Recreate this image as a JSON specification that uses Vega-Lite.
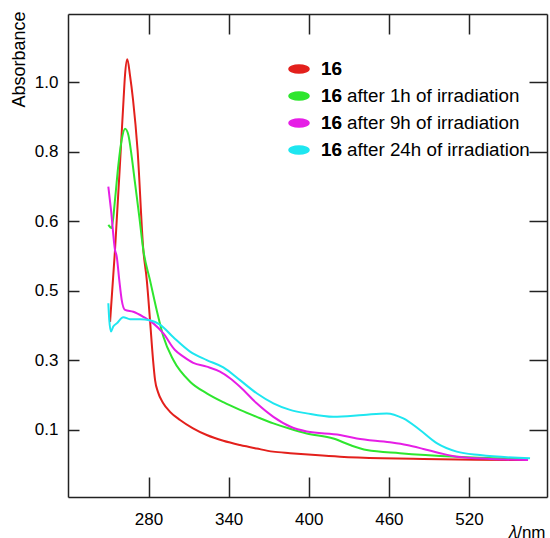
{
  "$schema": "https://vega.github.io/schema/vega-lite/v6.json",
  "width": 479,
  "height": 483,
  "autosize": {"type": "none"},
  "padding": {"left": 68, "top": 14, "right": 3, "bottom": 41},
  "background": "white",
  "config": {"view": {"stroke": null}, "font": "Liberation Sans"},
  "data": {"values": [
    {"k":"a","x":251.2,"y":0.38},{"k":"a","x":254.9,"y":0.566},{"k":"a","x":259.2,"y":0.825},{"k":"a","x":261.3,"y":0.955},{"k":"a","x":262.4,"y":1.019},{"k":"a","x":264.1,"y":1.06},{"k":"a","x":266.1,"y":1.019},{"k":"a","x":268.4,"y":0.955},{"k":"a","x":271.8,"y":0.825},{"k":"a","x":276.1,"y":0.566},{"k":"a","x":278.7,"y":0.488},{"k":"a","x":281.1,"y":0.385},{"k":"a","x":283.4,"y":0.281},{"k":"a","x":284.9,"y":0.229},{"k":"a","x":287.1,"y":0.198},{"k":"a","x":290.9,"y":0.17},{"k":"a","x":296.1,"y":0.147},{"k":"a","x":303.6,"y":0.126},{"k":"a","x":313.0,"y":0.105},{"k":"a","x":323.6,"y":0.087},{"k":"a","x":336.0,"y":0.072},{"k":"a","x":348.5,"y":0.061},{"k":"a","x":361.0,"y":0.052},{"k":"a","x":373.2,"y":0.044},{"k":"a","x":386.0,"y":0.04},{"k":"a","x":405.0,"y":0.035},{"k":"a","x":423.4,"y":0.031},{"k":"a","x":455.0,"y":0.027},{"k":"a","x":485.6,"y":0.025},{"k":"a","x":525.0,"y":0.023},{"k":"a","x":564.2,"y":0.022},
    {"k":"b","x":249.9,"y":0.631},{"k":"b","x":252.4,"y":0.623},{"k":"b","x":254.9,"y":0.696},{"k":"b","x":257.4,"y":0.786},{"k":"b","x":259.9,"y":0.851},{"k":"b","x":262.4,"y":0.88},{"k":"b","x":264.9,"y":0.864},{"k":"b","x":267.4,"y":0.808},{"k":"b","x":269.9,"y":0.739},{"k":"b","x":273.1,"y":0.652},{"k":"b","x":276.1,"y":0.566},{"k":"b","x":281.1,"y":0.488},{"k":"b","x":287.3,"y":0.393},{"k":"b","x":291.1,"y":0.342},{"k":"b","x":298.6,"y":0.281},{"k":"b","x":311.1,"y":0.225},{"k":"b","x":323.6,"y":0.195},{"k":"b","x":336.0,"y":0.172},{"k":"b","x":348.5,"y":0.152},{"k":"b","x":361.0,"y":0.134},{"k":"b","x":373.5,"y":0.117},{"k":"b","x":386.0,"y":0.103},{"k":"b","x":398.5,"y":0.091},{"k":"b","x":418.4,"y":0.078},{"k":"b","x":430.9,"y":0.061},{"k":"b","x":443.4,"y":0.048},{"k":"b","x":468.3,"y":0.04},{"k":"b","x":510.8,"y":0.031},{"k":"b","x":564.2,"y":0.025},
    {"k":"c","x":249.9,"y":0.73},{"k":"c","x":251.9,"y":0.67},{"k":"c","x":254.9,"y":0.566},{"k":"c","x":256.2,"y":0.549},{"k":"c","x":258.1,"y":0.488},{"k":"c","x":259.9,"y":0.437},{"k":"c","x":262.4,"y":0.411},{"k":"c","x":268.6,"y":0.406},{"k":"c","x":276.1,"y":0.393},{"k":"c","x":283.6,"y":0.376},{"k":"c","x":291.1,"y":0.35},{"k":"c","x":299.8,"y":0.307},{"k":"c","x":306.1,"y":0.29},{"k":"c","x":313.5,"y":0.274},{"k":"c","x":323.6,"y":0.264},{"k":"c","x":333.5,"y":0.251},{"k":"c","x":341.0,"y":0.234},{"k":"c","x":348.5,"y":0.212},{"k":"c","x":361.0,"y":0.169},{"k":"c","x":373.5,"y":0.134},{"k":"c","x":386.0,"y":0.109},{"k":"c","x":398.5,"y":0.096},{"k":"c","x":423.4,"y":0.087},{"k":"c","x":435.9,"y":0.078},{"k":"c","x":460.8,"y":0.068},{"k":"c","x":473.4,"y":0.061},{"k":"c","x":485.8,"y":0.051},{"k":"c","x":498.3,"y":0.04},{"k":"c","x":510.8,"y":0.031},{"k":"c","x":536.4,"y":0.025},{"k":"c","x":564.2,"y":0.022},
    {"k":"d","x":249.9,"y":0.428},{"k":"d","x":250.6,"y":0.385},{"k":"d","x":251.9,"y":0.355},{"k":"d","x":253.6,"y":0.368},{"k":"d","x":256.2,"y":0.376},{"k":"d","x":261.1,"y":0.392},{"k":"d","x":266.1,"y":0.387},{"k":"d","x":273.6,"y":0.387},{"k":"d","x":281.1,"y":0.384},{"k":"d","x":288.6,"y":0.373},{"k":"d","x":298.6,"y":0.34},{"k":"d","x":311.1,"y":0.303},{"k":"d","x":323.6,"y":0.281},{"k":"d","x":336.0,"y":0.262},{"k":"d","x":348.5,"y":0.229},{"k":"d","x":361.0,"y":0.195},{"k":"d","x":373.5,"y":0.169},{"k":"d","x":386.0,"y":0.152},{"k":"d","x":398.5,"y":0.143},{"k":"d","x":418.4,"y":0.134},{"k":"d","x":440.9,"y":0.139},{"k":"d","x":458.4,"y":0.143},{"k":"d","x":470.8,"y":0.13},{"k":"d","x":483.3,"y":0.1},{"k":"d","x":495.8,"y":0.066},{"k":"d","x":510.8,"y":0.044},{"k":"d","x":528.2,"y":0.035},{"k":"d","x":565.7,"y":0.027}
  ]},
  "layer": [
    {
      "mark": {"type": "line", "strokeWidth": 2, "interpolate": "monotone"},
      "encoding": {
        "x": {"field": "x", "type": "quantitative",
          "scale": {"domain": [219.7, 578.4], "nice": false, "zero": false},
          "axis": {"orient": "bottom", "values": [280, 340, 400, 460, 520], "grid": false,
            "tickSize": -20, "labelPadding": 34, "tickColor": "#222", "tickWidth": 1.5,
            "domainColor": "#222", "domainWidth": 1.5, "labelFont": "Liberation Sans", "labelFontSize": 17,
            "labelColor": "#000", "labelFlush": false,
            "title": "𝜆/nm", "titleFont": "Liberation Sans", "titleFontSize": 17, "titleFontWeight": "normal",
            "titleColor": "#000", "titleAlign": "right", "titleAnchor": "end", "titleX": 477, "titleY": 40, "titleBaseline": "alphabetic"}},
        "y": {"field": "y", "type": "quantitative",
          "scale": {"domain": [-0.0735, 1.177], "nice": false, "zero": false},
          "axis": {"orient": "left", "values": [0.1, 0.28, 0.46, 0.64, 0.82, 1.0], "format": ".1f", "grid": false,
            "tickSize": -11, "labelPadding": 21, "tickColor": "#222", "tickWidth": 1.5,
            "domainColor": "#222", "domainWidth": 1.5, "labelFont": "Liberation Sans", "labelFontSize": 17,
            "labelColor": "#000", "labelFlush": false,
            "title": "Absorbance", "titleFont": "Liberation Sans", "titleFontSize": 18, "titleFontWeight": "normal",
            "titleColor": "#000", "titleAngle": -90, "titleAlign": "right", "titleX": -49, "titleY": -3, "titleBaseline": "middle"}},
        "color": {"field": "k", "type": "nominal",
          "scale": {"domain": ["a", "b", "c", "d"], "range": ["#e3201c", "#2ee62e", "#e61ee6", "#1ee6f0"]},
          "legend": {"orient": "none", "legendX": 220, "legendY": 44, "title": null, "padding": 0,
            "symbolType": "M-1,0A1,0.4,0,1,1,1,0A1,0.4,0,1,1,-1,0Z", "symbolSize": 400,
            "labelFont": "Liberation Sans", "labelFontSize": 18.8, "labelColor": "#000", "labelOffset": 11,
            "rowPadding": 6, "labelLimit": 400,
            "labelExpr": "datum.value == 'a' ? '16' : datum.value == 'b' ? '16 after 1h of irradiation' : datum.value == 'c' ? '16 after 9h of irradiation' : '16 after 24h of irradiation'",
            "encode": {"symbols": {"update": {"fill": {"scale": "color", "field": "value"}, "fillOpacity": {"value": 1}, "stroke": {"value": "transparent"}, "opacity": {"value": 1}}}}}
        }
      }
    },
    {
      "mark": {"type": "line", "strokeWidth": 2, "interpolate": "monotone"},
      "encoding": {
        "x": {"field": "x", "type": "quantitative",
          "scale": {"domain": [219.7, 578.4], "nice": false, "zero": false},
          "axis": {"orient": "top", "values": [280, 340, 400, 460, 520], "grid": false, "labels": false, "title": null,
            "tickSize": -20, "tickColor": "#222", "tickWidth": 1.5, "domainColor": "#222", "domainWidth": 1.5}},
        "y": {"field": "y", "type": "quantitative",
          "scale": {"domain": [-0.0735, 1.177], "nice": false, "zero": false},
          "axis": {"orient": "right", "values": [0.1, 0.28, 0.46, 0.64, 0.82, 1.0], "grid": false, "labels": false, "title": null,
            "tickSize": -18, "tickColor": "#222", "tickWidth": 1.5, "domainColor": "#222", "domainWidth": 1.5}},
        "opacity": {"field": "k", "type": "nominal",
          "scale": {"domain": ["a", "b", "c", "d", "z"], "range": [0, 0, 0, 0, 0]},
          "legend": {"orient": "none", "legendX": 220, "legendY": 44, "title": null, "padding": 0,
            "values": ["a", "b", "c", "d"],
            "symbolType": "M-1,0A1,0.4,0,1,1,1,0A1,0.4,0,1,1,-1,0Z", "symbolSize": 400,
            "labelFont": "Liberation Sans", "labelFontSize": 18.8, "labelColor": "#000", "labelOffset": 11,
            "labelFontWeight": "bold", "rowPadding": 6, "labelLimit": 400,
            "labelExpr": "'16'",
            "encode": {"symbols": {"update": {"opacity": {"value": 0}}}}}
        }
      }
    }
  ],
  "resolve": {"axis": {"x": "independent", "y": "independent"}}
}
